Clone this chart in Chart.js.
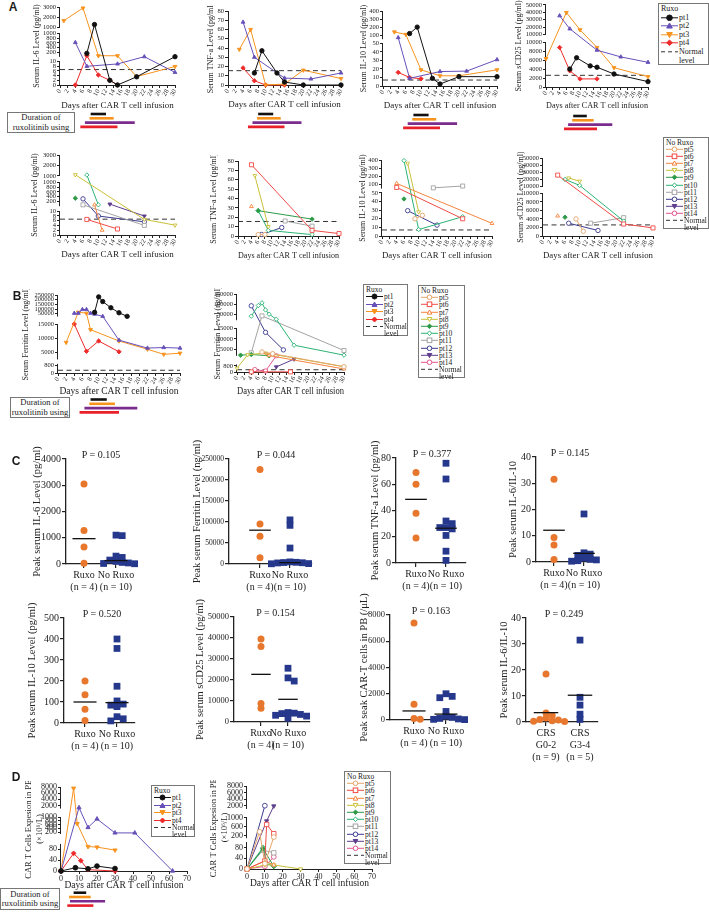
<!DOCTYPE html>
<html>
<head>
<meta charset="utf-8">
<script src="https://cdn.jsdelivr.net/npm/chart.js@4.4.1/dist/chart.umd.min.js"></script>
<style>
  body { margin: 0; width: 709px; height: 912px; position: relative; overflow: hidden; background: #fff;
         font-family: "Liberation Serif", "Times New Roman", serif; color: #1a1a1a; }
  canvas { position: absolute; }
  .txt { position: absolute; white-space: nowrap; transform: translate(-50%, -50%); }
  .letter { position: absolute; font-family: "Liberation Sans", Arial, sans-serif; font-weight: bold; font-size: 12px; transform: translate(-50%, -50%); }
  .lg { position: absolute; border: 1px solid #777; background: #fff; box-sizing: border-box; padding: 1px 2px; }
  .lg .it { display: flex; align-items: flex-start; }
  .lg svg { flex: none; margin-right: 1px; }
  .dur { position: absolute; border: 1px solid #777; box-sizing: border-box; font-size: 8.5px; line-height: 9.5px;
         display: flex; align-items: center; justify-content: center; text-align: center; background: #fff; }
</style>
</head>
<body>
<script>
// ---------- data ----------
const ruxoPts = ['pt1', 'pt2', 'pt3', 'pt4'];
const noRuxoPts = ['pt5', 'pt6', 'pt7', 'pt8', 'pt9', 'pt10', 'pt11', 'pt12', 'pt13', 'pt14'];

const days30 = [0, 2, 4, 6, 8, 10, 12, 14, 16, 18, 20, 22, 24, 26, 28, 30];
const days70 = [0, 10, 20, 30, 40, 50, 60, 70];

// ruxolitinib duration [start day, end day] for pt1..pt4
const ruxoDaysAB = [[8, 12], [7.7, 14], [6.5, 19.5], [5.3, 15]];
const ruxoDaysD = [[7, 14], [4.5, 16.5], [5, 24.5], [3.5, 18]];

// panel A, Ruxo: one list of [day, value] per patient pt1..pt4
const il6Ruxo = [
  [[7, 160], [9, 1270], [13, 2], [15, 0], [20, 3.5], [30, 20]],
  [[4, 620], [7, 8], [15, 9], [22, 20], [30, 5.4]],
  [[1, 1650], [6, 2900], [10, 60], [15, 60], [20, 3.6], [30, 7.9]],
  [[4, 0], [7, 60], [10, 4.3], [13, 2], [15, 0]]
];
const tnfRuxo = [
  [[7, 13], [9, 37], [13, 13], [15, 3.2], [20, 0], [30, 0]],
  [[4, 68], [7, 30], [15, 7.5], [22, 6.5], [30, 13]],
  [[3, 38.5], [6, 60], [10, 0], [15, 1], [20, 16], [30, 7]],
  [[4, 18.5], [7, 4.6], [10, 0], [15, 0]]
];
const il10Ruxo = [
  [[7, 120], [9, 200], [13, 9], [15, 2.3], [20, 11], [30, 11]],
  [[4, 70], [7, 9], [15, 17], [22, 17.5], [30, 31]],
  [[3, 140], [6, 109], [10, 19], [15, 12], [20, 12], [30, 19]],
  [[4, 16], [7, 10], [10, 8.5]]
];
const cd25Ruxo = [
  [[7, 4000], [9, 6500], [13, 4700], [15, 4400], [20, 2900], [30, 1200]],
  [[4, 35300], [7, 17600], [15, 8200], [22, 6700], [30, 5500]],
  [[0, 6300], [6, 39700], [10, 16300], [15, 8800], [20, 4300], [30, 2300]],
  [[4, 8800], [7, 3600], [10, 1800], [15, 1800]]
];

// panel A, No Ruxo: pt5..pt14 (null = not measured)
const il6NoRuxo = [
  null,
  [[7, 6.5], [15, 2.5]],
  [[9, 67], [11, 2]],
  [[4, 1100], [22, 6.5], [30, 4.1]],
  [[4, 340]],
  [[7, 1080], [10, 67]],
  [[6, 67], [22, 4]],
  [[6, 313], [10, 7.9], [22, 5.5]],
  [[13, 96], [22, 7.9]],
  null
];
const tnfNoRuxo = [
  [[6, 1.5], [8, 1.5]],
  [[4, 76], [22, 6], [30, 2.6]],
  [[4, 31.5]],
  [[5, 64.5], [9, 10]],
  [[6, 27], [22, 18]],
  [[6, 27], [9, 6], [22, 1.5]],
  [[14, 16], [22, 10.5]],
  [[7, 1.6], [13, 9]],
  null,
  null
];
const il10NoRuxo = [
  [[9, 20], [11, 24]],
  [[4, 64], [22, 20]],
  [[4, 113], [30, 14.6]],
  [[7, 359], [10, 28]],
  [[6, 43]],
  [[6, 392], [10, 7.5], [22, 22.4]],
  [[14, 59], [22, 81]],
  [[7, 29.4], [15, 12.6]],
  null,
  null
];
const cd25NoRuxo = [
  [[9, 4000], [11, 1100]],
  [[4, 25600], [22, 2800], [30, 1900]],
  [[4, 4700]],
  [[7, 21500], [10, 17000]],
  [[6, 4400]],
  [[6, 19500], [10, 11000], [22, 3500]],
  [[13, 3000], [22, 4300]],
  [[7, 3000], [15, 1300]],
  null,
  null
];

// panel B, ferritin
const ferRuxo = [
  [[9, 65000], [10, 230000], [11, 180000], [13, 114000], [15, 60000], [17, 22000]],
  [[4, 55000], [5, 55000], [6, 95000], [7, 95000], [8, 55000], [9, 45000], [11, 22000], [15, 9300], [22, 6500], [26, 6700], [30, 6500]],
  [[2, 8500], [5, 66000], [7, 55000], [8, 13000], [15, 9000], [22, 6100], [26, 4300], [30, 4700]],
  [[4, 15000], [7, 5400], [10, 9000], [15, 5200]]
];
const ferNoRuxo = [
  [[7, 3800], [10, 3000], [30, 700]],
  [[4, 20], [15, 20]],
  [[7, 3800], [9, 2100], [30, 400]],
  [[0, 500], [3, 2500], [8, 3300], [30, 700]],
  [[1, 2300], [4, 2600], [9, 2000]],
  [[4, 40000], [6, 93000], [7, 106000], [8, 71000], [9, 50000], [11, 25000], [16, 7000], [30, 2300]],
  [[4, 3400], [7, 41500], [30, 4500]],
  [[4, 91500], [8, 13100], [13, 4800]],
  [[11, 670], [16, 1700]],
  [[5, 320], [8, 130], [11, 2000]]
];

// panel D, CAR-T expansion
const cartRuxo = [
  [[0, 0], [8, 12], [15, 8], [20, 18], [30, 9]],
  [[0, 0], [10, 1300], [15, 450], [20, 900], [30, 160], [41, 160], [62, 0]],
  [[0, 0], [7, 7600], [9, 650], [15, 90], [20, 88], [30, 77]],
  [[0, 0], [7, 65], [11, 38], [15, 5], [30, 0]]
];
const cartNoRuxo = [
  [[0, 0], [7, 380], [10, 20], [15, 150]],
  [[0, 0], [10, 30], [11, 700], [15, 300]],
  [[0, 0], [10, 30], [15, 15]],
  [[0, 0], [10, 15], [15, 15], [30, 0]],
  [[0, 0], [9, 75], [15, 10]],
  [[0, 0], [9, 80], [11, 20], [15, 10]],
  [[0, 0], [9, 70], [15, 60]],
  [[0, 0], [10, 2000]],
  [[0, 0], [11, 850], [15, 1900]],
  [[0, 0], [10, 10], [15, 45]]
];

// normal levels
const normIL6 = 6.6, normTNF = 15.5, normIL10 = 7, normCD25 = 2600, normFer = 300;

// y tick values
const tnfTicks = [0, 10, 20, 30, 40, 50, 60, 70, 80];
const il6TicksLo = [0, 2, 4, 6, 8, 10], il6TicksMid = [200, 400, 600, 800, 1000], il6TicksHi = [1000, 2000, 3000];
const il10TicksLo = [0, 10, 20, 30, 40, 50], il10TicksHi = [100, 200, 300, 400];
const cd25TicksLo = [0, 2000, 4000, 6000, 8000, 10000], cd25TicksHi = [10000, 20000, 30000, 40000, 50000];
const ferTicksLo = [0, 800], ferTicksMid = [5000, 10000, 15000];
const ferTicksHiR = [50000, 100000, 150000, 200000, 250000], ferTicksHiN = [50000, 100000, 150000];
const cartTicksLo = [0, 40, 80], cartTicksMidR = [200, 400, 600, 800, 1000], cartTicksMidN = [200, 600, 1000];
const cartTicksHi = [2000, 4000, 6000, 8000];

// panel C: peak values per group, and the drawn centre line per group
const grpLabels = [['Ruxo', '(n = 4)'], ['No Ruxo', '(n = 10)']];
const crsLabels = [['CRS', 'G0-2', '(n = 9)'], ['CRS', 'G3-4', '(n = 5)']];
const pkIL6 = [[3050, 1280, 650, 30], [1100, 1080, 300, 250, 150, 100, 60, 40, 20, 10]];
const pkFer = [[225000, 95000, 66000, 15000], [105000, 92000, 38000, 5000, 4000, 3500, 3000, 2500, 1000, 500]];
const pkTNF = [[69, 60, 38, 19], [76, 64, 32, 30, 27, 27, 26, 21, 9, 2]];
const pkRatio = [[31.5, 9.3, 6.5, 1], [18.3, 3.5, 3, 2.5, 1.5, 1, 0.8, 0.5, 0.3, 0.2]];
const pkIL10 = [[200, 135, 65, 12], [400, 355, 175, 105, 90, 85, 78, 30, 20, 10]];
const pkCD25 = [[39500, 36000, 8800, 6500], [25600, 21000, 19500, 4500, 4200, 4000, 3600, 3200, 2800, 1800]];
const pkCART = [[7400, 1200, 120, 60], [2000, 1800, 1700, 650, 300, 200, 120, 80, 50, 30]];
const pkRatioCRS = [[18.5, 3.5, 2.5, 1.5, 1, 0.8, 0.5, 0.3, 0.2], [31.5, 9.5, 6.5, 3, 1]];
const ctrIL6 = [965, 130], ctrFer = [80500, 3200], ctrTNF = [48.5, 26.5], ctrRatio = [12.1, 3.3];
const ctrIL10 = [100, 97], ctrCD25 = [22700, 10800], ctrCART = [690, 450], ctrRatioCRS = [3.6, 10.3];
const tkIL6 = [0, 1000, 2000, 3000, 4000], tkFer = [0, 50000, 100000, 150000, 200000, 250000];
const tkTNF = [0, 20, 40, 60, 80], tkRatio = [0, 10, 20, 30, 40], tkIL10 = [0, 100, 200, 300, 400, 500];
const tkCD25 = [0, 10000, 20000, 30000, 40000, 50000], tkCART = [0, 2000, 4000, 6000, 8000];
const pValues = ['P = 0.105', 'P = 0.044', 'P = 0.377', 'P = 0.145', 'P = 0.520', 'P = 0.154', 'P = 0.163', 'P = 0.249'];

// ---------- styles ----------
const COL = {
  pt1: '#111111', pt2: '#6650b8', pt3: '#f7931e', pt4: '#ee2a2a',
  pt5: '#e3a46a', pt6: '#ef4a45', pt7: '#f5843f', pt8: '#c9c03a', pt9: '#2e9a48',
  pt10: '#2bb375', pt11: '#a3a3a3', pt12: '#3b3b8e', pt13: '#5e3d8c', pt14: '#e2558f'
};
// [pointStyle, rotation, open]
const MK = {
  pt1: ['circle', 0, false], pt2: ['triangle', 0, false], pt3: ['triangle', 180, false], pt4: ['rectRot', 0, false],
  pt5: ['circle', 0, true], pt6: ['rect', 0, true], pt7: ['triangle', 0, true], pt8: ['triangle', 180, true],
  pt9: ['rectRot', 0, false], pt10: ['rectRot', 0, true], pt11: ['rect', 0, true], pt12: ['circle', 0, true],
  pt13: ['triangle', 180, false], pt14: ['circle', 0, true]
};
const BAR_COL = ['#111111', '#f7941d', '#7b2d8e', '#e8202a'];
const DOT_COL = ['#e8772e', '#26388c'];
const AXIS = '#222';

Chart.defaults.font.family = '"Liberation Serif", "Times New Roman", serif';
Chart.defaults.color = '#1a1a1a';
Chart.defaults.animation = false;
Chart.defaults.events = [];
Chart.defaults.plugins.legend.display = false;
Chart.defaults.plugins.tooltip.enabled = false;

// ---------- broken y axis ----------
const SEGS = {};
class BrokenScale extends Chart.LinearScale {
  static id = 'broken';
  segs() { return SEGS[this.chart.canvas.id]; }
  buildTicks() {
    const out = [];
    this.segs().forEach((g, i) => g.ticks.forEach(v => out.push({ value: v, seg: i })));
    return out;
  }
  segPx(g, v) {
    const f = g.from + (v - g.min) / (g.max - g.min) * (g.to - g.from);
    return this.bottom - f * (this.bottom - this.top);
  }
  getPixelForValue(v) {
    const segs = this.segs();
    let g = segs[0];
    segs.forEach(s => { if (v >= s.min) g = s; });
    return this.segPx(g, v);
  }
  getPixelForTick(i) {
    const t = this.ticks[i];
    return this.segPx(this.segs()[t.seg], t.value);
  }
  drawBorder() {
    const ctx = this.ctx;
    const x = Math.round(this.right) - 0.5;
    ctx.save();
    ctx.strokeStyle = AXIS;
    ctx.lineWidth = 1;
    this.segs().forEach(g => {
      ctx.beginPath();
      ctx.moveTo(x, this.segPx(g, g.min));
      ctx.lineTo(x, this.segPx(g, g.max));
      ctx.stroke();
    });
    ctx.restore();
  }
}
Chart.register(BrokenScale);

// duration-of-ruxolitinib bars under a chart, placed with its x scale
const durationBars = {
  id: 'durationBars',
  afterDraw(chart, args, o) {
    if (!o.rows) return;
    const sx = chart.scales.x, ctx = chart.ctx;
    ctx.save();
    ctx.lineWidth = 2.6;
    o.rows.forEach((r, i) => {
      const y = chart.chartArea.bottom + o.offset + i * o.gap;
      ctx.strokeStyle = BAR_COL[i];
      ctx.beginPath();
      ctx.moveTo(sx.getPixelForValue(r[0]), y);
      ctx.lineTo(sx.getPixelForValue(r[1]), y);
      ctx.stroke();
    });
    ctx.restore();
  }
};

// ---------- layout helpers ----------
function frame(s) {
  const left = Math.round(s.px0 - s.yW), top = Math.round(s.py0 - (s.padT ?? 6));
  const right = Math.round(s.px1 + (s.padR ?? 6));
  const axisBottom = Math.round(s.py1 + s.xH);
  const bottom = axisBottom + (s.padB ?? 0);
  const cv = document.createElement('canvas');
  cv.id = s.id;
  cv.width = right - left;
  cv.height = bottom - top;
  cv.style.left = left + 'px';
  cv.style.top = top + 'px';
  document.body.appendChild(cv);
  return {
    cv,
    yW: Math.round(s.px0) - left,
    padT: Math.round(s.py0) - top,
    padR: right - Math.round(s.px1),
    xH: axisBottom - Math.round(s.py1),
    padB: bottom - axisBottom
  };
}

function yAxis(f, cfg) {
  const base = {
    position: 'left',
    ticks: { autoSkip: false, font: { size: cfg.tfs }, padding: 1, color: AXIS, callback: v => String(v) },
    grid: { drawOnChartArea: false, tickLength: 3, color: AXIS },
    border: { color: AXIS, width: 1 },
    title: { display: true, text: cfg.yTitle, font: { size: cfg.titleFs }, padding: 0, color: AXIS },
    afterFit: sc => { sc.width = f.yW; sc.paddingTop = 0; sc.paddingBottom = 0; }
  };
  if (cfg.segs) {
    const last = cfg.segs[cfg.segs.length - 1];
    return Object.assign(base, { type: 'broken', min: cfg.segs[0].min, max: last.max });
  }
  const t = cfg.yTicks;
  return Object.assign(base, {
    type: 'linear', min: t[0], max: t[t.length - 1],
    afterBuildTicks: sc => { sc.ticks = t.map(v => ({ value: v })); }
  });
}

function dayChart(s, series, pts, cfg) {
  const f = frame(s);
  if (cfg.segs) SEGS[s.id] = cfg.segs;
  const xt = cfg.xTicks;
  const ds = [];
  series.forEach((pairs, i) => {
    if (!pairs) return;
    const p = pts[i], c = COL[p], m = MK[p];
    ds.push({
      type: 'line', data: pairs.map(([x, y]) => ({ x, y })),
      borderColor: c, borderWidth: 1, tension: 0, clip: false,
      pointStyle: m[0], pointRotation: m[1], pointRadius: cfg.r * (m[0] === 'rect' ? 1.3 : 1),
      pointBackgroundColor: m[2] ? '#fff' : c, pointBorderColor: c, pointBorderWidth: 0.9
    });
  });
  if (cfg.normal != null) {
    ds.push({
      type: 'line', data: [{ x: xt[0], y: cfg.normal }, { x: xt[xt.length - 1], y: cfg.normal }],
      borderColor: '#333', borderWidth: 1, borderDash: [5, 3.5], pointRadius: 0, clip: false
    });
  }
  return new Chart(f.cv, {
    type: 'line',
    data: { datasets: ds },
    options: {
      responsive: false,
      layout: { padding: { top: f.padT, right: f.padR, bottom: f.padB, left: 0 } },
      scales: {
        x: {
          type: 'linear', min: xt[0], max: xt[xt.length - 1],
          afterBuildTicks: sc => { sc.ticks = xt.map(v => ({ value: v })); },
          ticks: { autoSkip: false, maxRotation: cfg.rot, minRotation: cfg.rot, font: { size: cfg.xfs }, padding: 0, color: AXIS, callback: v => String(v) },
          grid: { drawOnChartArea: false, tickLength: 3, color: AXIS },
          border: { color: AXIS, width: 1 },
          title: { display: true, text: 'Days after CAR T cell infusion', font: { size: cfg.xTitleFs || 9 }, padding: 0, color: AXIS },
          afterFit: sc => { sc.height = f.xH; sc.paddingLeft = 0; sc.paddingRight = 0; }
        },
        y: yAxis(f, cfg)
      },
      plugins: { durationBars: { rows: cfg.bars || null, offset: cfg.barOffset || 0, gap: 4.3 } }
    },
    plugins: [durationBars]
  });
}

// spread dots that would overlap, like a scatter dot plot (pixel offsets -> x units)
function swarm(vals, lo, hi, plotH, near, step) {
  const placed = [];
  return vals.map(v => {
    const py = (v - lo) / (hi - lo) * plotH;
    let off = 0;
    for (let n = 0; n < 30; n++) {
      off = n === 0 ? 0 : Math.ceil(n / 2) * (n % 2 ? 1 : -1) * step;
      if (placed.every(p => Math.abs(p.x - off) >= step * 0.9 || Math.abs(p.y - py) >= near)) break;
    }
    placed.push({ x: off, y: py });
    return off;
  });
}

function dotChart(s, groups, centers, labels, yTicks, yTitle, pText) {
  const f = frame(Object.assign({ padT: 26, padB: 6 }, s));
  const lo = yTicks[0], hi = yTicks[yTicks.length - 1];
  const sp = s.cats[1] - s.cats[0];
  const xmin = -(s.cats[0] - s.px0) / sp, xmax = 1 + (s.px1 - s.cats[1]) / sp;
  const ds = [];
  groups.forEach((vals, g) => {
    const offs = swarm(vals, lo, hi, s.py1 - s.py0, 4.5, 6.2);
    ds.push({
      type: 'scatter', data: vals.map((v, i) => ({ x: g + offs[i] / sp, y: v })),
      pointStyle: g ? 'rect' : 'circle', pointRadius: g ? 4.8 : 3.5,
      pointBackgroundColor: DOT_COL[g], pointBorderColor: DOT_COL[g], pointBorderWidth: 0, clip: false
    });
  });
  centers.forEach((c, g) => {
    ds.unshift({
      type: 'line', data: [{ x: g - 0.36, y: c }, { x: g + 0.36, y: c }],
      borderColor: '#111', borderWidth: 1.3, pointRadius: 0, clip: false
    });
  });
  new Chart(f.cv, {
    type: 'scatter',
    data: { datasets: ds },
    options: {
      responsive: false,
      layout: { padding: { top: f.padT, right: f.padR, bottom: f.padB, left: 0 } },
      scales: {
        x: {
          type: 'linear', min: xmin, max: xmax,
          afterBuildTicks: sc => { sc.ticks = [{ value: 0 }, { value: 1 }]; },
          ticks: { autoSkip: false, maxRotation: 0, font: { size: 10 }, padding: 1, color: AXIS, callback: v => labels[v] },
          grid: { drawOnChartArea: false, tickLength: 4, color: AXIS, lineWidth: 1.2 },
          border: { color: AXIS, width: 1.3 },
          afterFit: sc => { sc.height = f.xH; sc.paddingLeft = 0; sc.paddingRight = 0; }
        },
        y: {
          type: 'linear', min: lo, max: hi,
          afterBuildTicks: sc => { sc.ticks = yTicks.map(v => ({ value: v })); },
          ticks: { autoSkip: false, font: { size: s.tfs || 10 }, padding: 1, color: AXIS, callback: v => String(v) },
          grid: { drawOnChartArea: false, tickLength: 4, color: AXIS, lineWidth: 1.2 },
          border: { color: AXIS, width: 1.3 },
          title: { display: true, text: yTitle, font: { size: 10.5 }, padding: 0, color: AXIS },
          afterFit: sc => { sc.width = f.yW; sc.paddingTop = 0; sc.paddingBottom = 0; }
        }
      }
    }
  });
  text(pText, (s.cats[0] + s.cats[1]) / 2 + 1, s.py0 - 5, 10);
}

function text(str, x, y, size, cls) {
  const d = document.createElement('div');
  d.className = cls || 'txt';
  d.style.left = x + 'px';
  d.style.top = y + 'px';
  if (size) d.style.fontSize = size + 'px';
  d.innerHTML = str;
  document.body.appendChild(d);
}

function markerSvg(p, r) {
  const c = COL[p], m = MK[p], fill = m[2] ? '#fff' : c;
  const w = 17, cy = r + 1, cx = w / 2;
  let shape;
  if (m[0] === 'circle') shape = `<circle cx="${cx}" cy="${cy}" r="${r}"/>`;
  else if (m[0] === 'rect') shape = `<rect x="${cx - r}" y="${cy - r}" width="${2 * r}" height="${2 * r}"/>`;
  else if (m[0] === 'rectRot') shape = `<polygon points="${cx},${cy - r} ${cx + r},${cy} ${cx},${cy + r} ${cx - r},${cy}"/>`;
  else if (m[1] === 180) shape = `<polygon points="${cx - r},${cy - r * 0.8} ${cx + r},${cy - r * 0.8} ${cx},${cy + r}"/>`;
  else shape = `<polygon points="${cx},${cy - r} ${cx + r},${cy + r * 0.8} ${cx - r},${cy + r * 0.8}"/>`;
  return `<svg width="${w}" height="${2 * r + 2}"><line x1="0" y1="${cy}" x2="${w}" y2="${cy}" stroke="${c}" stroke-width="1"/>` +
    `<g fill="${fill}" stroke="${c}" stroke-width="1">${shape}</g></svg>`;
}

function legend(box, title, pts, r, fs, lh) {
  const d = document.createElement('div');
  d.className = 'lg';
  Object.assign(d.style, { left: box[0] + 'px', top: box[1] + 'px', width: box[2] + 'px', height: box[3] + 'px', fontSize: fs + 'px', lineHeight: lh + 'px' });
  let html = `<div>${title}</div>`;
  pts.forEach(p => { html += `<div class="it" style="height:${lh}px">${markerSvg(p, r)}<span>${p}</span></div>`; });
  html += `<div class="it"><svg width="17" height="${2 * r + 2}"><line x1="0" y1="${r + 1}" x2="17" y2="${r + 1}" stroke="#333" stroke-dasharray="4 3"/></svg><span>Normal<br>level</span></div>`;
  d.innerHTML = html;
  document.body.appendChild(d);
}

function durBox(x, y, w, h) {
  const d = document.createElement('div');
  d.className = 'dur';
  Object.assign(d.style, { left: x + 'px', top: y + 'px', width: w + 'px', height: h + 'px' });
  d.innerHTML = 'Duration of<br>ruxolitinib using';
  document.body.appendChild(d);
}

// ---------- axis segment layouts (fractions of axis height) ----------
const segIL6 = [
  { min: 0, max: 10, from: 0, to: 0.30, ticks: il6TicksLo },
  { min: 10, max: 1000, from: 0.36, to: 0.66, ticks: il6TicksMid },
  { min: 1000, max: 3000, from: 0.74, to: 1, ticks: il6TicksHi }
];
const segIL10 = [
  { min: 0, max: 50, from: 0, to: 0.567, ticks: il10TicksLo },
  { min: 50, max: 400, from: 0.624, to: 1, ticks: il10TicksHi }
];
const segCD25 = [
  { min: 0, max: 10000, from: 0, to: 0.547, ticks: cd25TicksLo },
  { min: 10000, max: 50000, from: 0.64, to: 1, ticks: cd25TicksHi }
];
const segFerR = [
  { min: 0, max: 1000, from: 0, to: 0.117, ticks: ferTicksLo },
  { min: 2500, max: 15000, from: 0.174, to: 0.628, ticks: ferTicksMid },
  { min: 20000, max: 250000, from: 0.724, to: 1, ticks: ferTicksHiR }
];
const segFerN = [
  { min: 0, max: 1000, from: 0, to: 0.097, ticks: ferTicksLo },
  { min: 2000, max: 15000, from: 0.208, to: 0.56, ticks: ferTicksMid },
  { min: 20000, max: 150000, from: 0.664, to: 1, ticks: ferTicksHiN }
];
const segCartR = [
  { min: 0, max: 100, from: 0, to: 0.323, ticks: cartTicksLo },
  { min: 100, max: 1000, from: 0.44, to: 0.642, ticks: cartTicksMidR },
  { min: 1000, max: 8000, from: 0.743, to: 1, ticks: cartTicksHi }
];
const segCartN = [
  { min: 0, max: 100, from: 0, to: 0.325, ticks: cartTicksLo },
  { min: 100, max: 1000, from: 0.37, to: 0.62, ticks: cartTicksMidN },
  { min: 1000, max: 8000, from: 0.723, to: 1, ticks: cartTicksHi }
];

// ---------- panel A ----------
const aCfg = { xTicks: days30, rot: 60, xfs: 6.5, tfs: 6.5, titleFs: 8, r: 2.2 };
const barsA = { bars: ruxoDaysAB, barOffset: 29 };
dayChart({ id: 'a1', px0: 60, px1: 175, py0: 7, py1: 85, yW: 28, xH: 25.5, padB: 46, padT: 5 }, il6Ruxo, ruxoPts,
  Object.assign({}, aCfg, barsA, { segs: segIL6, normal: normIL6, yTitle: 'Serum IL-6 Level (pg/ml)' }));
dayChart({ id: 'a2', px0: 227.5, px1: 341, py0: 10.7, py1: 85.3, yW: 21.5, xH: 25, padB: 46 }, tnfRuxo, ruxoPts,
  Object.assign({}, aCfg, barsA, { yTicks: tnfTicks, normal: normTNF, yTitle: 'Serum TNF-a Level (pg/ml)' }));
dayChart({ id: 'a3', px0: 383, px1: 497, py0: 10.7, py1: 86, yW: 24.5, xH: 25, padB: 46 }, il10Ruxo, ruxoPts,
  Object.assign({}, aCfg, barsA, { segs: segIL10, normal: normIL10, yTitle: 'Serum IL-10 Level (pg/ml)' }));
dayChart({ id: 'a4', px0: 546, px1: 648.3, py0: 4, py1: 87.3, yW: 32.5, xH: 24, padB: 46, padT: 4 }, cd25Ruxo, ruxoPts,
  Object.assign({}, aCfg, barsA, { segs: segCD25, normal: normCD25, yTitle: 'Serum sCD25 Level (pg/ml)' }));

dayChart({ id: 'a5', px0: 60, px1: 175, py0: 155, py1: 235.3, yW: 30, xH: 25 }, il6NoRuxo, noRuxoPts,
  Object.assign({}, aCfg, { segs: segIL6, normal: normIL6, yTitle: 'Serum IL-6 Level (pg/ml)' }));
dayChart({ id: 'a6', px0: 238, px1: 339, py0: 160.7, py1: 235.7, yW: 29.5, xH: 25 }, tnfNoRuxo, noRuxoPts,
  Object.assign({}, aCfg, { yTicks: tnfTicks, normal: normTNF, yTitle: 'Serum TNF-a Level (pg/ml)' }));
dayChart({ id: 'a7', px0: 382.3, px1: 491.7, py0: 160, py1: 235.7, yW: 24, xH: 25.5 }, il10NoRuxo, noRuxoPts,
  Object.assign({}, aCfg, { segs: segIL10, normal: normIL10, yTitle: 'Serum IL-10 Level (pg/ml)' }));
dayChart({ id: 'a8', px0: 543, px1: 653.3, py0: 158.3, py1: 235.7, yW: 27, xH: 25 }, cd25NoRuxo, noRuxoPts,
  Object.assign({}, aCfg, { segs: segCD25, normal: normCD25, yTitle: 'Serum sCD25 Level (pg/ml)' }));

// ---------- panel B ----------
dayChart({ id: 'b1', px0: 58.3, px1: 180, py0: 295, py1: 373, yW: 37, xH: 24, padB: 42 }, ferRuxo, ruxoPts,
  Object.assign({}, aCfg, { bars: ruxoDaysAB, barOffset: 26.5, segs: segFerR, normal: normFer, xTitleFs: 9.5, yTitle: 'Serum Ferritin Level (ng/ml)' }));
dayChart({ id: 'b2', px0: 237.3, px1: 344, py0: 294.3, py1: 371.7, yW: 24, xH: 25.4 }, ferNoRuxo, noRuxoPts,
  Object.assign({}, aCfg, { segs: segFerN, normal: normFer, xTitleFs: 9.5, yTitle: 'Serum Ferritin Level (ng/ml)' }));

// ---------- panel C ----------
dotChart({ id: 'c1', px0: 66, px1: 136, py0: 459, py1: 564.3, yW: 35, xH: 30, cats: [84, 116] }, pkIL6, ctrIL6, grpLabels, tkIL6, 'Peak serum IL-6 Level (pg/ml)', pValues[0]);
dotChart({ id: 'c2', px0: 229, px1: 312, py0: 459.3, py1: 564, yW: 38, xH: 30, cats: [260, 290], tfs: 7.5 }, pkFer, ctrFer, grpLabels, tkFer, 'Peak serum Ferritin Level (ng/ml)', pValues[1]);
dotChart({ id: 'c3', px0: 396, px1: 466, py0: 457.7, py1: 563.3, yW: 27.3, xH: 30, cats: [416, 446] }, pkTNF, ctrTNF, grpLabels, tkTNF, 'Peak serum TNF-a Level (pg/ml)', pValues[2]);
dotChart({ id: 'c4', px0: 536, px1: 596, py0: 456.7, py1: 562.3, yW: 28.7, xH: 30, cats: [554, 584] }, pkRatio, ctrRatio, grpLabels, tkRatio, 'Peak serum IL-6/IL-10', pValues[3]);
dotChart({ id: 'c5', px0: 64, px1: 135, py0: 618.3, py1: 723.3, yW: 38, xH: 30, cats: [85, 117] }, pkIL10, ctrIL10, grpLabels, tkIL10, 'Peak serum IL-10 Level (pg/ml)', pValues[4]);
dotChart({ id: 'c6', px0: 234, px1: 310, py0: 616.7, py1: 721.7, yW: 40, xH: 30, cats: [261, 288], tfs: 8.5 }, pkCD25, ctrCD25, grpLabels, tkCD25, 'Peak serum sCD25 Level (pg/ml)', pValues[5]);
dotChart({ id: 'c7', px0: 390, px1: 466, py0: 615, py1: 720, yW: 32, xH: 30, cats: [414, 446], tfs: 8.5 }, pkCART, ctrCART, grpLabels, tkCART, 'Peak seak CAR-T cells in PB (/μL)', pValues[6]);
dotChart({ id: 'c8', px0: 526, px1: 598, py0: 617.7, py1: 721.7, yW: 28, xH: 42, cats: [546, 580] }, pkRatioCRS, ctrRatioCRS, crsLabels, tkRatio, 'Peak serum IL-6/IL-10', pValues[7]);

// ---------- panel D ----------
const dCfg = { xTicks: days70, rot: 0, xfs: 8, tfs: 8, titleFs: 8.5, r: 2.4, xTitleFs: 9.5 };
dayChart({ id: 'd1', px0: 61, px1: 186.7, py0: 787.3, py1: 871, yW: 37.5, xH: 20.4, padB: 40 }, cartRuxo, ruxoPts,
  Object.assign({}, dCfg, { bars: ruxoDaysD, barOffset: 21.7, segs: segCartR, yTitle: ['CAR T Cells Expesion in PB', '(×10⁶/L)'] }));
dayChart({ id: 'd2', px0: 247.3, px1: 371.7, py0: 786, py1: 869, yW: 38.8, xH: 19.7 }, cartNoRuxo, noRuxoPts,
  Object.assign({}, dCfg, { segs: segCartN, yTitle: ['CAR T Cells Expesion in PB', '(×10⁶/L)'] }));

// ---------- legends, boxes, letters ----------
legend([658, 3, 51, 62], 'Ruxo', ruxoPts, 2.8, 8, 8.6);
legend([663, 137, 46, 92], 'No Ruxo', noRuxoPts, 2.3, 7.5, 7.1);
legend([363, 284, 45, 52], 'Ruxo', ruxoPts, 2.5, 7.5, 7.4);
legend([418, 285, 47, 93], 'No Ruxo', noRuxoPts, 2.3, 7.5, 7.2);
legend([151, 785, 44, 52], 'Ruxo', ruxoPts, 2.5, 7.5, 7.4);
legend([344, 771, 47, 93], 'No Ruxo', noRuxoPts, 2.3, 7.5, 7.2);

durBox(7, 112, 68, 21);
durBox(10, 397, 60, 21);
durBox(0, 888, 60, 22);

text('A', 13, 7, null, 'letter');
text('B', 17, 296, null, 'letter');
text('C', 16, 461, null, 'letter');
text('D', 16, 777, null, 'letter');
</script>
</body>
</html>
